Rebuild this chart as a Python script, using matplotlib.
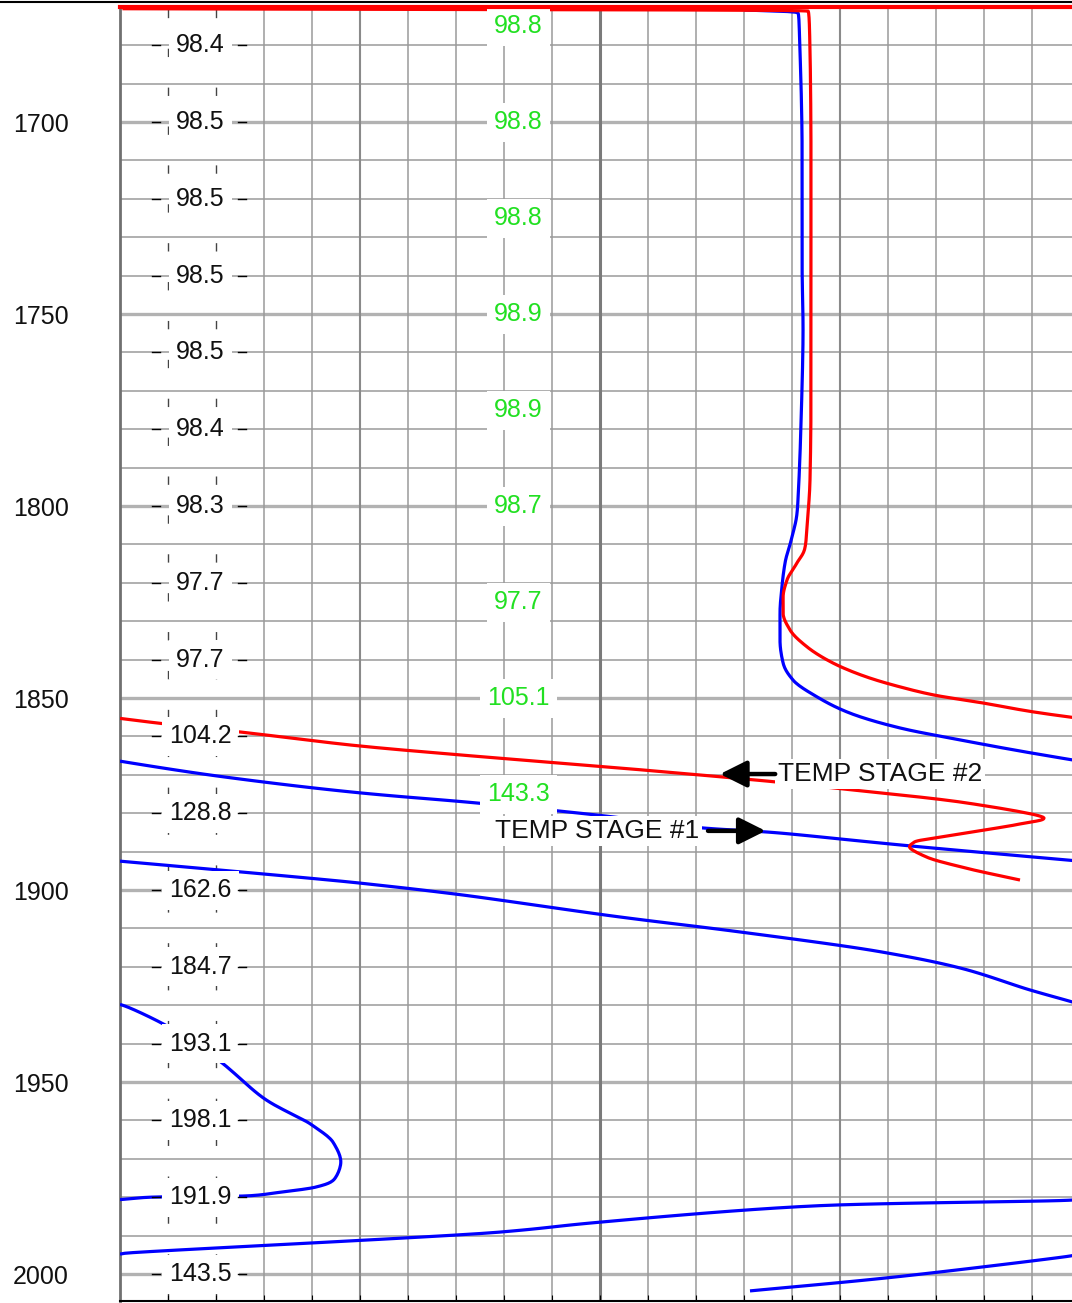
import numpy as np
import matplotlib
matplotlib.use('Agg')
import matplotlib.pyplot as plt
from matplotlib.lines import Line2D

plt.rcParams['font.family'] = ['Liberation Sans', 'DejaVu Sans']

# ---------------- data ----------------
track_left = 70.0      # temperature at left edge of the track
track_width = 40.0     # wrap-around width of the track

red_depth = [1670.5, 1671.1, 1681.25, 1707.3, 1733.3, 1750.0, 1772.4, 1793.2, 1801.8,
             1810.9, 1814.8, 1819.3, 1823.7, 1827.9, 1832.3, 1836.7, 1840.9, 1844.5,
             1847.1, 1849.2, 1851.3, 1853.6, 1856.5, 1858.9, 1862.5, 1864.6, 1868.0,
             1871.9, 1874.0, 1877.3, 1881.25, 1882.8, 1885.4, 1887.5, 1888.8, 1891.4,
             1894.3, 1897.4]
red_temp = [70.1, 98.67, 98.75, 98.79, 98.79, 98.79, 98.79, 98.75, 98.67,
            98.54, 98.21, 97.79, 97.63, 97.63, 97.92, 98.63, 99.71, 101.1,
            102.5, 103.9, 105.96, 108.04, 111.54, 115.08, 120.0, 123.75, 130.4,
            137.4, 140.6, 145.25, 148.5, 147.5, 145.0, 143.1, 142.9, 143.6,
            145.25, 147.5]

blue_depth = [1670.8, 1671.6, 1681.25, 1707.3, 1735.9, 1754.2, 1777.6, 1793.2, 1801.8,
              1808.1, 1814.8, 1821.1, 1827.9, 1834.9, 1840.9, 1845.3, 1849.7, 1853.9,
              1857.8, 1860.9, 1863.8, 1870.3, 1874.7, 1877.3, 1880.5, 1883.9, 1884.9,
              1888.5, 1898.2, 1901.0, 1907.0, 1910.9, 1916.1, 1920.3, 1926.0, 1929.2,
              1930.2, 1935.2, 1944.3, 1954.7, 1961.2, 1965.9, 1970.8, 1975.5, 1977.3,
              1978.6, 1979.7, 1979.95, 1980.8, 1982.0, 1986.5, 1989.1, 1994.6, 1995.3,
              2001.0, 2004.4]
blue_temp = [96.0, 98.25, 98.33, 98.42, 98.42, 98.46, 98.38, 98.29, 98.21,
             98.0, 97.71, 97.58, 97.5, 97.5, 97.63, 98.04, 99.04, 100.4,
             102.5, 105.0, 107.5, 114.04, 120.0, 124.8, 129.9, 134.4, 136.96,
             142.9, 160.0, 163.9, 170.8, 175.8, 181.7, 185.0, 187.9, 189.7,
             190.2, 191.9, 194.1, 196.1, 198.0, 198.9, 199.2, 198.9, 198.2,
             196.8, 195.1, 191.5, 189.5, 180.0, 170.0, 165.8, 150.2, 149.6,
             141.96, 136.25]

depth_ticks = [1700, 1750, 1800, 1850, 1900, 1950, 2000]
blue_label_depths = [1680, 1700, 1720, 1740, 1760, 1780, 1800, 1820, 1840,
                     1860, 1880, 1900, 1920, 1940, 1960, 1980, 2000]
blue_label_values = ['98.4', '98.5', '98.5', '98.5', '98.5', '98.4', '98.3', '97.7', '97.7',
                     '104.2', '128.8', '162.6', '184.7', '193.1', '198.1', '191.9', '143.5']
red_label_depths = [1675, 1700, 1725, 1750, 1775, 1800, 1825, 1850, 1875]
red_label_values = ['98.8', '98.8', '98.8', '98.9', '98.9', '98.7', '97.7', '105.1', '143.3']

annotations = ['TEMP STAGE #2', 'TEMP STAGE #1']


def pchip_param(y, n=12):
    """Monotone cubic (Fritsch-Carlson) smoothing of a sequence vs. its index."""
    y = np.asarray(y, float)
    N = len(y)
    d = np.diff(y)
    m = np.zeros(N)
    m[0], m[-1] = d[0], d[-1]
    for i in range(1, N - 1):
        if d[i - 1] * d[i] > 0:
            m[i] = 2.0 / (1.0 / d[i - 1] + 1.0 / d[i])
    out = []
    s = np.linspace(0, 1, n, endpoint=False)
    h00 = 2 * s**3 - 3 * s**2 + 1
    h10 = s**3 - 2 * s**2 + s
    h01 = -2 * s**3 + 3 * s**2
    h11 = s**3 - s**2
    for i in range(N - 1):
        out.append(h00 * y[i] + h10 * m[i] + h01 * y[i + 1] + h11 * m[i + 1])
    out.append([y[-1]])
    return np.concatenate(out)


def wrap_segments(depth, temp, left=track_left, width=track_width):
    segs = []
    cx, cy = [], []
    for i in range(len(temp)):
        v, d = temp[i], depth[i]
        k = int(np.floor((v - left) / width))
        if i > 0:
            v0, d0 = temp[i - 1], depth[i - 1]
            k0 = int(np.floor((v0 - left) / width))
            m = k0
            while m != k:
                if k > m:
                    b = left + width * (m + 1)
                    end_x, start_x = left + width, left
                    m_next = m + 1
                else:
                    b = left + width * m
                    end_x, start_x = left, left + width
                    m_next = m - 1
                t = (b - v0) / (v - v0)
                db = d0 + t * (d - d0)
                cx.append(end_x); cy.append(db)
                segs.append((cx, cy))
                cx, cy = [start_x], [db]
                m = m_next
        cx.append(v - width * k); cy.append(d)
    segs.append((cx, cy))
    return segs


W, H = 1072, 1303
fig = plt.figure(figsize=(W / 100, H / 100), dpi=100)
ax = fig.add_axes([120 / W, 2 / H, 952 / W, 1294 / H])
ax.set_xlim(track_left, track_left + 952 / 24)
ax.set_ylim(2007.03, 1670.05)

# grid
for d in np.arange(1680, 2001, 10):
    if d % 50 == 0:
        ax.axhline(d, color='#b2b2b2', lw=2.4, zorder=1)
    else:
        ax.axhline(d, color='#9a9a9a', lw=1.1, zorder=1)
for x in np.arange(track_left + 2, track_left + track_width, 2):
    if x in (72, 74):
        ax.axvline(x, color='#444444', lw=1.0, ls=(0, (6, 22)), zorder=1)
    elif x - track_left == track_width / 2:
        ax.axvline(x, color='#7a7a7a', lw=2.2, zorder=1)
    elif (x - track_left) % 10 == 0:
        ax.axvline(x, color='#8a8a8a', lw=1.5, zorder=1)
    else:
        ax.axvline(x, color='#9a9a9a', lw=1.1, zorder=1)

# curves (smoothed, wrapped)
for dep, tmp, col, z in [(blue_depth, blue_temp, '#0000ff', 3),
                         (red_depth, red_temp, '#ff0000', 3.5)]:
    sd = pchip_param(dep)
    st = pchip_param(tmp)
    for xs, ys in wrap_segments(sd, st):
        ax.plot(xs, ys, color=col, lw=2.3, zorder=z, solid_capstyle='butt')

# value labels
for d, s in zip(blue_label_depths, blue_label_values):
    ax.text(73.35, d, s, fontsize=18, color='#111111', ha='center', va='center', zorder=5,
            bbox=dict(facecolor='white', edgecolor='none', boxstyle='square,pad=0.3'))
    ax.plot([71.33, 71.67], [d, d], color='black', lw=1.0, zorder=6)
    ax.plot([74.92, 75.25], [d, d], color='black', lw=1.0, zorder=6)
for d, s in zip(red_label_depths, red_label_values):
    ax.text(86.6, d, s, fontsize=18, color='#22e022', ha='center', va='center', zorder=5,
            bbox=dict(facecolor='white', edgecolor='none', boxstyle='square,pad=0.3'))

# annotations
ax.text(97.42, 1869.8, annotations[0], fontsize=19, color='#111111', ha='left', va='center',
        zorder=6, bbox=dict(facecolor='white', edgecolor='none', boxstyle='square,pad=0.1'))
ax.annotate('', xy=(95.0, 1869.8), xytext=(97.3, 1869.8), zorder=7,
            arrowprops=dict(arrowstyle='-|>,head_length=0.9,head_width=0.45', lw=3.2,
                            color='black', shrinkA=0, shrinkB=0, mutation_scale=18))
ax.text(85.62, 1884.6, annotations[1], fontsize=19, color='#111111', ha='left', va='center',
        zorder=6, bbox=dict(facecolor='white', edgecolor='none', boxstyle='square,pad=0.1'))
ax.annotate('', xy=(96.9, 1884.6), xytext=(94.5, 1884.6), zorder=7,
            arrowprops=dict(arrowstyle='-|>,head_length=0.9,head_width=0.45', lw=3.2,
                            color='black', shrinkA=0, shrinkB=0, mutation_scale=18))

# axes styling
ax.set_yticks(depth_ticks)
ax.set_yticklabels([str(d) for d in depth_ticks], fontsize=18, color='#111111')
ax.tick_params(axis='y', length=0, pad=37)
ax.set_xticks(np.arange(track_left + 2, track_left + track_width, 2))
ax.tick_params(axis='x', direction='in', length=4, labelbottom=False, color='black')
ax.spines['top'].set_color('#ff0000')
ax.spines['top'].set_linewidth(3)
ax.spines['top'].set_zorder(10)
ax.spines['left'].set_color('#707070')
ax.spines['left'].set_linewidth(2)
ax.spines['right'].set_visible(False)
ax.spines['bottom'].set_color('black')
ax.spines['bottom'].set_linewidth(1.5)

fig.add_artist(Line2D([0, 1], [1 - 1.5 / H, 1 - 1.5 / H], color='black', lw=1.5,
                      transform=fig.transFigure))

fig.savefig('out.png', dpi=100)
